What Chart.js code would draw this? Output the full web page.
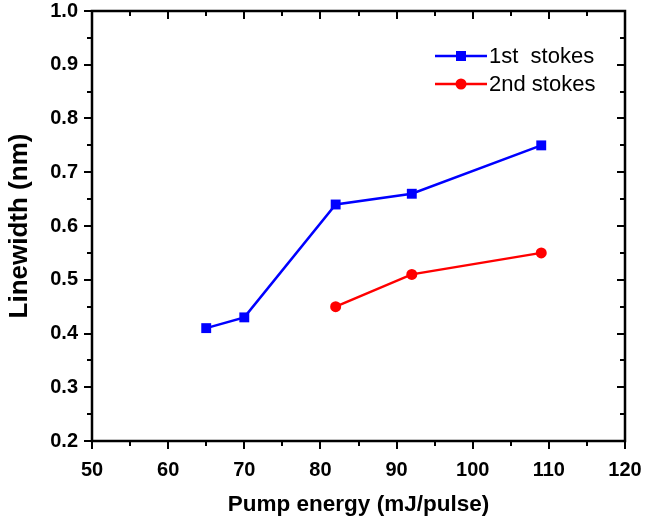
<!DOCTYPE html>
<html>
<head>
<meta charset="utf-8">
<script src="https://cdn.jsdelivr.net/npm/chart.js@4"></script>
<style>
  html, body { margin: 0; padding: 0; background: #fff; }
  #wrap { width: 645px; height: 522px; }
</style>
</head>
<body>
<div id="wrap"><canvas id="grafico" width="645" height="522"></canvas></div>
<script>
// Datos
const energia1 = [65, 70, 82, 92, 109];
const ancho1 = [0.41, 0.43, 0.64, 0.66, 0.75];
const energia2 = [82, 92, 109];
const ancho2 = [0.45, 0.51, 0.55];
const nombres = ["1st  stokes", "2nd stokes"];
const ticksX = [50, 60, 70, 80, 90, 100, 110, 120];
const ticksY = [0.2, 0.3, 0.4, 0.5, 0.6, 0.7, 0.8, 0.9, 1.0];

const fuente = "Arial, 'Liberation Sans', sans-serif";

// Marco espejo, ticks menores y leyenda
const marcoPlugin = {
    id: 'marco',
    afterDraw(chart) {
        const ctx = chart.ctx;
        const a = chart.chartArea;
        const sx = chart.scales.x, sy = chart.scales.y;
        ctx.save();
        ctx.strokeStyle = '#000';
        ctx.lineWidth = 2.5;
        ctx.strokeRect(a.left, a.top, a.right - a.left, a.bottom - a.top);
        ctx.lineWidth = 2;
        ctx.beginPath();
        // eje x: mayores y menores
        for (let v = 50; v <= 120; v += 5) {
            const px = Math.round(sx.getPixelForValue(v));
            const len = v % 10 === 0 ? 8 : 5;
            ctx.moveTo(px, a.bottom); ctx.lineTo(px, a.bottom + len);
            ctx.moveTo(px, a.top); ctx.lineTo(px, a.top + len);
        }
        for (let i = 0; i <= 16; i++) {
            const v = 0.2 + i * 0.05;
            const py = Math.round(sy.getPixelForValue(v));
            const len = i % 2 === 0 ? 8 : 5;
            ctx.moveTo(a.left, py); ctx.lineTo(a.left - len, py);
            ctx.moveTo(a.right, py); ctx.lineTo(a.right - len, py);
        }
        ctx.stroke();

        // leyenda
        const x0 = 435, x1 = 487;
        const filas = [56, 84];
        chart.data.datasets.forEach((ds, i) => {
            const y = filas[i];
            ctx.strokeStyle = ds.borderColor;
            ctx.lineWidth = 2.5;
            ctx.beginPath();
            ctx.moveTo(x0, y); ctx.lineTo(x1, y);
            ctx.stroke();
            ctx.fillStyle = ds.backgroundColor;
            const cx = (x0 + x1) / 2;
            if (ds.pointStyle === 'rect') {
                ctx.fillRect(cx - 5, y - 5, 10, 10);
            } else {
                ctx.beginPath();
                ctx.arc(cx, y, 5.5, 0, Math.PI * 2);
                ctx.fill();
            }
            ctx.fillStyle = '#000';
            ctx.font = "22px " + fuente;
            ctx.textBaseline = 'middle';
            ctx.textAlign = 'left';
            ctx.fillText(ds.label, 489, y + 1);
        });
        ctx.restore();
    }
};

new Chart(document.getElementById('grafico'), {
    type: 'scatter',
    data: {
        datasets: [
            {
                label: nombres[0],
                data: energia1.map((x, i) => ({ x, y: ancho1[i] })),
                showLine: true,
                borderColor: '#0000ff',
                backgroundColor: '#0000ff',
                borderWidth: 2.5,
                pointStyle: 'rect',
                pointRadius: 7,
                pointBorderWidth: 0
            },
            {
                label: nombres[1],
                data: energia2.map((x, i) => ({ x, y: ancho2[i] })),
                showLine: true,
                borderColor: '#ff0000',
                backgroundColor: '#ff0000',
                borderWidth: 2.5,
                pointStyle: 'circle',
                pointRadius: 5.5,
                pointBorderWidth: 0
            }
        ]
    },
    options: {
        responsive: false,
        animation: false,
        layout: { padding: { top: 11, right: 20, left: 0, bottom: 0 } },
        plugins: { legend: { display: false }, tooltip: { enabled: false } },
        scales: {
            x: {
                type: 'linear',
                min: 50, max: 120,
                afterBuildTicks: s => { s.ticks = ticksX.map(v => ({ value: v })); },
                afterFit: s => {
                    s.height = 81;
                    s.paddingLeft = 0; s.paddingRight = 0;
                },
                grid: { display: false },
                border: { display: false },
                ticks: {
                    color: '#000',
                    padding: 9,
                    font: { family: fuente, size: 20, weight: 'bold' }
                },
                title: {
                    display: true,
                    text: 'Pump energy (mJ/pulse)',
                    color: '#000',
                    padding: { top: 8 },
                    font: { family: fuente, size: 22.5, weight: 'bold' }
                }
            },
            y: {
                type: 'linear',
                min: 0.2, max: 1.0,
                afterBuildTicks: s => { s.ticks = ticksY.map(v => ({ value: v })); },
                afterFit: s => {
                    s.width = 92;
                    s.paddingTop = 0; s.paddingBottom = 0;
                },
                grid: { display: false },
                border: { display: false },
                ticks: {
                    color: '#000',
                    padding: 6,
                    callback: v => v.toFixed(1),
                    font: { family: fuente, size: 20, weight: 'bold' }
                },
                title: {
                    display: true,
                    text: 'Linewidth (nm)',
                    color: '#000',
                    padding: { bottom: 0 },
                    font: { family: fuente, size: 26, weight: 'bold' }
                }
            }
        }
    },
    plugins: [marcoPlugin]
});
</script>
</body>
</html>
